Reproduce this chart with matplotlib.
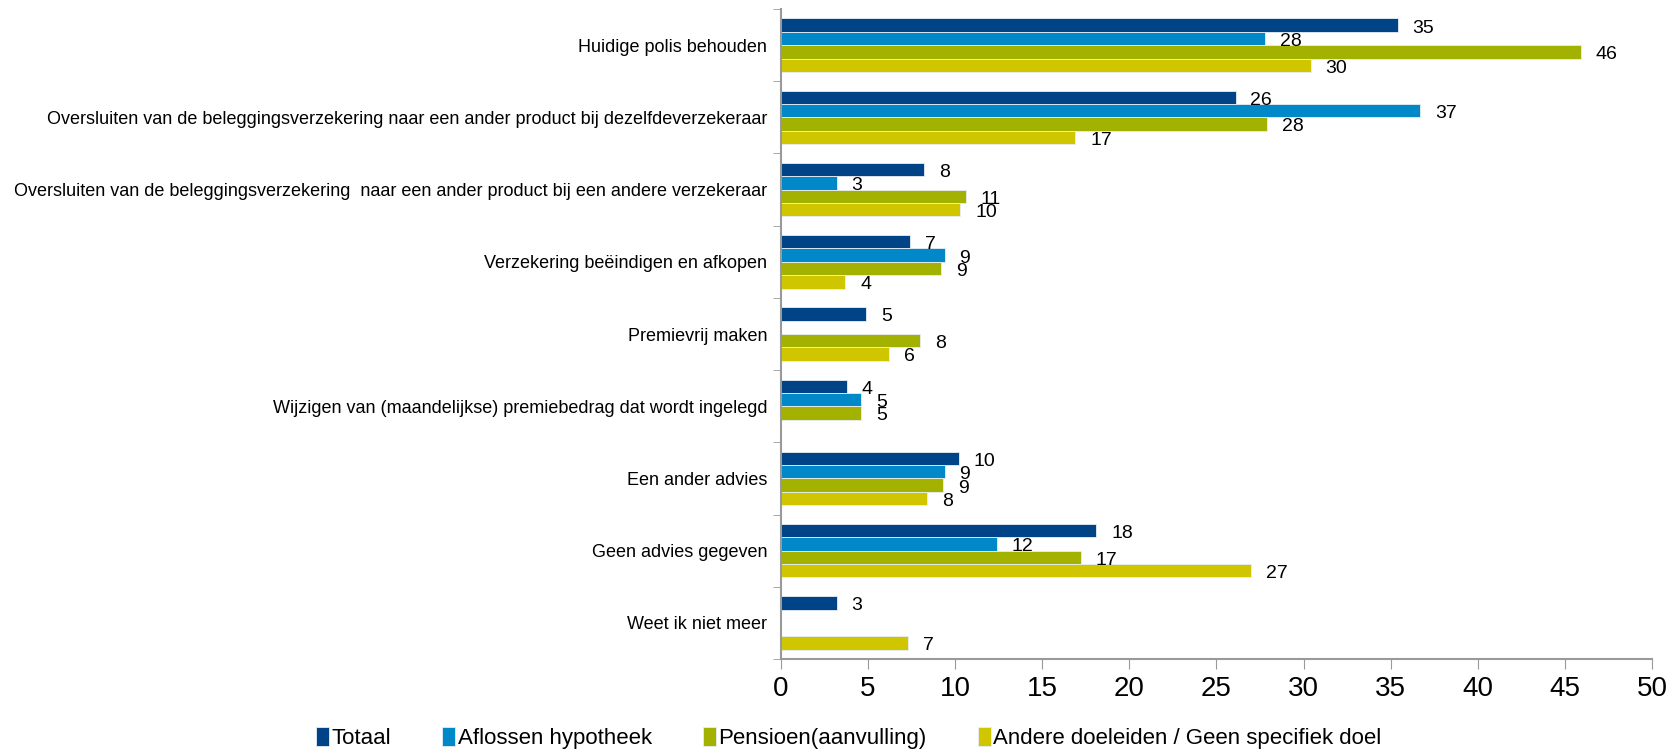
import numpy as np
import matplotlib
matplotlib.use('Agg')
import matplotlib.pyplot as plt

plt.rcParams['font.family'] = ['Liberation Sans Narrow', 'Liberation Sans', 'DejaVu Sans']

categories = [
    'Huidige polis behouden',
    'Oversluiten van de beleggingsverzekering naar een ander product bij dezelfdeverzekeraar',
    'Oversluiten van de beleggingsverzekering  naar een ander product bij een andere verzekeraar',
    'Verzekering beëindigen en afkopen',
    'Premievrij maken',
    'Wijzigen van (maandelijkse) premiebedrag dat wordt ingelegd',
    'Een ander advies',
    'Geen advies gegeven',
    'Weet ik niet meer',
]
series_names = ['Totaal', 'Aflossen hypotheek', 'Pensioen(aanvulling)',
                'Andere doeleiden / Geen specifiek doel']
# None = no bar shown
totaal   = [35.4, 26.1, 8.2, 7.4, 4.9, 3.8, 10.2, 18.1, 3.2]
aflossen = [27.8, 36.7, 3.2, 9.4, None, 4.6, 9.4, 12.4, None]
pensioen = [45.9, 27.9, 10.6, 9.2, 8.0, 4.6, 9.3, 17.2, None]
andere   = [30.4, 16.9, 10.3, 3.7, 6.2, None, 8.4, 27.0, 7.3]
colors = ['#004386', '#0088C9', '#A3B100', '#CFC600']

fig = plt.figure(figsize=(16.77, 7.54), dpi=100)
ax = fig.add_axes([0.4657, 0.126, 0.5194, 0.862])

y = np.arange(len(categories))
h = 0.185
all_series = [totaal, aflossen, pensioen, andere]
for k, (vals, col, name) in enumerate(zip(all_series, colors, series_names)):
    pos = y - 1.5 * h + k * h
    v = np.array([np.nan if x is None else x for x in vals], dtype=float)
    ax.barh(pos, np.nan_to_num(v), height=h, color=col, label=name,
            edgecolor='#e8eef4', linewidth=0.6)
    for p, x in zip(pos, v):
        if not np.isnan(x):
            ax.text(x + 0.85, p + 0.04, '%d' % round(x), va='center', ha='left',
                    fontsize=14, color='black')

ax.set_ylim(len(categories) - 0.5, -0.5)
ax.set_xlim(0, 50)
ax.set_xticks(np.arange(0, 51, 5))
ax.tick_params(axis='x', labelsize=20, length=7, color='#999999', direction='out', pad=5)
ax.set_yticks(y)
ax.set_yticklabels(categories, fontsize=13)
ax.tick_params(axis='y', length=0, pad=10)
ax.set_yticks(np.arange(-0.5, len(categories)), minor=True)
ax.tick_params(axis='y', which='minor', length=6, color='#999999')
for s in ['top', 'right']:
    ax.spines[s].set_visible(False)
for s in ['left', 'bottom']:
    ax.spines[s].set_color('#999999')
    ax.spines[s].set_linewidth(1.5)

fig.legend(loc='lower center', bbox_to_anchor=(0.506, -0.02), ncol=4, frameon=False,
           handlelength=0.6, handleheight=0.9, handletextpad=0.1,
           columnspacing=2.3, prop={'family': ['Liberation Sans', 'DejaVu Sans'], 'size': 16})

fig.savefig('out.png', dpi=100)
